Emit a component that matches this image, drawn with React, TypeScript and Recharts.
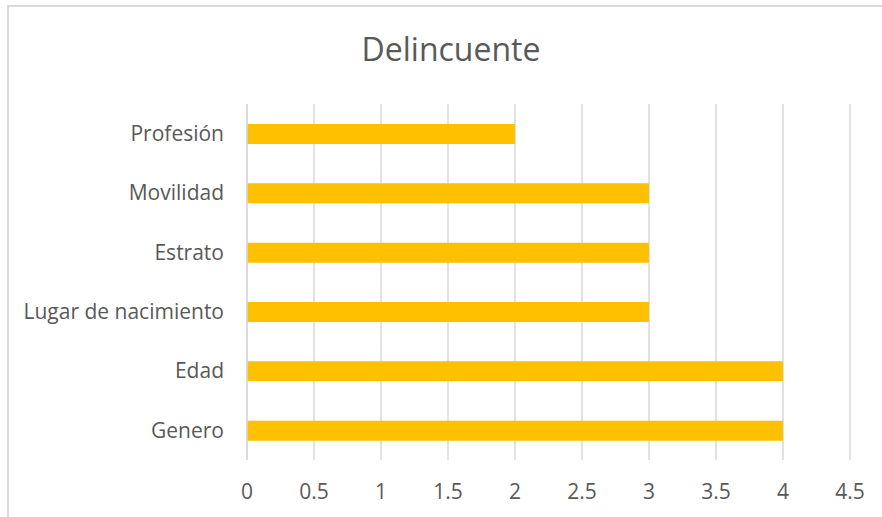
import React from "react";
import { BarChart, Bar, XAxis, YAxis, CartesianGrid } from "recharts";

const categories = ["Profesión", "Movilidad", "Estrato", "Lugar de nacimiento", "Edad", "Genero"];
const values = [2, 3, 3, 3, 4, 4];
const xTicks = [0, 0.5, 1, 1.5, 2, 2.5, 3, 3.5, 4, 4.5];

const data = categories.map((c, i) => ({ name: c, value: values[i] }));

const FONT = "'Open Sans', sans-serif";
const TEXT = "#595959";
const GRID = "#D9D9D9";

export default function App() {
  return (
    <div style={{ position: "absolute", left: 0, top: 0, width: 882, height: 517, overflow: "hidden", background: "#fff" }}>
      <div
        style={{
          position: "absolute",
          left: 7,
          top: 5,
          width: 900,
          height: 600,
          border: `2px solid ${GRID}`,
          boxSizing: "border-box",
        }}
      />
      <div
        style={{
          position: "absolute",
          left: 0,
          top: 27,
          width: 902,
          textAlign: "center",
          fontFamily: FONT,
          fontSize: 32,
          color: TEXT,
          lineHeight: "44px",
        }}
      >
        Delincuente
      </div>
      <div style={{ position: "absolute", left: 0, top: 0 }}>
        <BarChart
          width={882}
          height={517}
          data={data}
          layout="vertical"
          margin={{ top: 104, right: 32, bottom: 17, left: 7 }}
          barSize={20}
        >
          <CartesianGrid horizontal={false} vertical={true} stroke={GRID} strokeWidth={1.5} />
          <XAxis
            type="number"
            domain={[0, 4.5]}
            ticks={xTicks}
            interval={0}
            axisLine={false}
            tickLine={false}
            height={40}
            tickMargin={18}
            tick={{ fill: TEXT, fontSize: 21, fontFamily: FONT }}
          />
          <YAxis
            type="category"
            dataKey="name"
            width={240}
            axisLine={{ stroke: GRID, strokeWidth: 1.5 }}
            tickLine={false}
            tickMargin={17}
            interval={0}
            tick={{ fill: TEXT, fontSize: 21, fontFamily: FONT }}
          />
          <Bar dataKey="value" fill="#FFC000" isAnimationActive={false} />
        </BarChart>
      </div>
    </div>
  );
}
